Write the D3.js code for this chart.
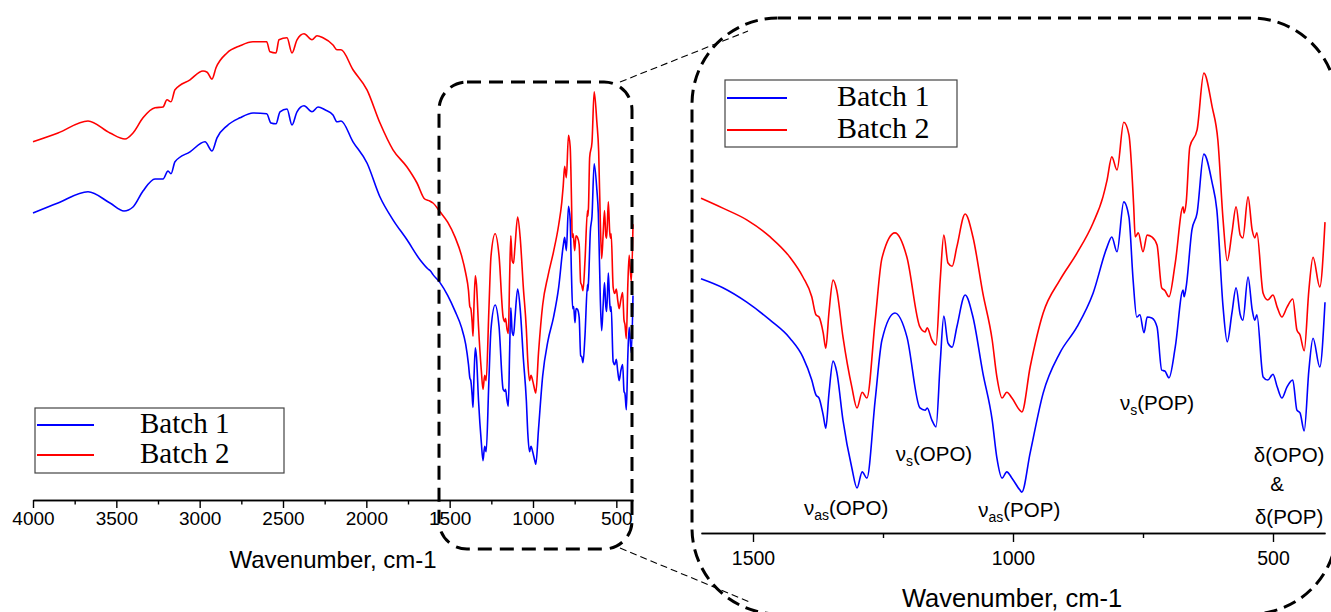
<!DOCTYPE html>
<html>
<head>
<meta charset="utf-8">
<script src="https://cdn.jsdelivr.net/npm/d3@7"></script>
<style>
  body { margin: 0; background: #fff; }
  text { font-family: "Liberation Sans", Arial, sans-serif; fill: #000; }
  .legend text { font-family: "Liberation Serif", "Times New Roman", serif; }
</style>
</head>
<body>
<svg id="chart"></svg>
<script>
var WIDTH = 1331;
var HEIGHT = 612;

// FTIR spectra, [wavenumber cm-1, transmittance a.u.]
var batch1 = [
  [4000,69],[3850,71.5],[3670,74.3],[3538,71.5],[3454,69.5],[3400,70.5],[3340,74.5],[3268,77.5],
  [3220,77.5],[3190,79.5],[3172,78.8],[3148,81.8],[3058,84.3],[2968,86.8],[2926,84.5],[2896,87.8],
  [2836,90.8],[2758,92.8],[2680,94],[2598,93.8],[2572,91.5],[2542,91.3],[2518,94.3],[2476,95],
  [2446,91],[2416,94.3],[2374,95.8],[2326,94.3],[2290,95.5],[2248,94.8],[2200,93.5],[2176,91.8],
  [2152,92],[2080,86.8],[1996,81.5],[1918,73],[1840,67.3],[1756,62.3],[1678,57.3],[1630,55],
  [1615,54.5],[1600,53.6],[1558,51.6],[1512,48.4],[1467,44.4],[1429,40.4],[1404,36.2],[1387,31.1],
  [1379,27.8],[1373,27.1],[1365,23.3],[1360,20.4],[1354,28],[1346,35.3],[1339,32.9],[1327,22.2],
  [1310,11.6],[1300,7.1],[1290,10.7],[1281,9.3],[1265,26.7],[1252,40],[1227,46],[1204,40.7],
  [1179,24.9],[1169,24.4],[1165,24.9],[1156,22.2],[1148,20.7],[1140,34.9],[1133,45.3],[1125,39.3],
  [1117,38.4],[1108,42.9],[1092,50],[1077,45.1],[1058,32.7],[1040,22.2],[1031,13.8],[1021,9.3],
  [1012,10.7],[1002,9.3],[987,6.7],[983,6.2],[967,14.9],[942,28.2],[910,37.1],[877,42.9],
  [846,50.4],[819,60.7],[810,62.9],[800,59.6],[787,70.7],[777,67.3],[769,53.3],[762,45.1],
  [756,45.6],[748,41.6],[742,45.1],[733,44.9],[723,42.9],[714,33.3],[708,33.1],[700,31.6],
  [688,38.4],[673,51.1],[671,49.6],[667,51.8],[656,64.4],[646,68.2],[633,81.3],[617,74.9],
  [608,68.9],[596,47.3],[588,39.6],[579,46],[571,51.6],[563,45.6],[558,44.4],[548,54],
  [540,46.7],[535,44.4],[531,45.6],[519,31.8],[510,31.1],[500,32.4],[492,29.6],[483,27.1],
  [473,29.6],[462,31.1],[454,24.4],[448,23.8],[440,19.8],[431,33.3],[423,40.4],[410,34],[400,48.4]
];
var batch2 = [
  [4000,86.8],[3850,89],[3670,92],[3538,89],[3448,87.5],[3400,89],[3340,92.8],[3268,95.3],
  [3220,95.5],[3196,97.3],[3172,96.8],[3148,99.8],[3058,102.3],[2980,104.5],[2955,104.2],[2926,102.5],
  [2902,105.3],[2836,109],[2758,110.8],[2680,111.8],[2598,111.8],[2578,109.3],[2542,109],[2524,112.3],
  [2476,112.8],[2446,109],[2416,112.3],[2374,113.8],[2326,112.3],[2296,113.3],[2260,112.8],[2200,111],
  [2176,109.8],[2152,109.8],[2080,104.8],[1996,99.8],[1918,91.5],[1840,84.8],[1756,80.5],[1696,76.5],
  [1650,72.5],[1620,72],[1600,71.5],[1558,69.3],[1512,66.7],[1467,62.9],[1429,58.4],[1404,54],
  [1387,49.6],[1379,45.6],[1373,45.1],[1365,41.6],[1360,38.2],[1354,46],[1346,53.3],[1339,51.1],
  [1327,40.7],[1310,29.6],[1300,24.9],[1290,28.4],[1281,27.1],[1265,44.4],[1252,58.2],[1227,63.8],
  [1204,58.4],[1179,42.9],[1169,41.8],[1165,42.7],[1156,40],[1148,38.9],[1140,53.3],[1133,63.3],
  [1125,57.1],[1117,56.4],[1108,60.7],[1092,68],[1077,62.9],[1058,50.4],[1040,40],[1031,31.8],
  [1021,27.1],[1012,28.4],[1002,27.1],[987,24.4],[983,24],[967,34],[942,46],[910,53.3],
  [877,59.3],[846,66],[827,71.8],[819,75.6],[810,80.7],[800,77.8],[787,88.4],[777,85.6],
  [768,70],[765,62.9],[759,63.8],[750,59.6],[742,63.3],[733,62.9],[723,61.1],[714,51.6],
  [708,51],[700,49.6],[688,57.1],[673,69.6],[671,68.2],[667,70.5],[660,82.9],[646,86.7],
  [633,99.3],[617,91.8],[606,84.4],[596,66.7],[588,57.6],[579,63.8],[571,69.6],[563,63.3],
  [558,62.7],[548,71.8],[540,64.4],[535,62.7],[531,63.8],[519,50.4],[510,48.9],[500,50],
  [492,47.3],[483,45.1],[473,47.3],[462,49.1],[454,42.2],[448,41.1],[440,37.6],[431,51.1],
  [423,58.4],[410,51.8],[400,66.2]
];
var seriesNames = ['Batch 1', 'Batch 2'];
var seriesColors = ['#0000ff', '#ff0000'];

var leftMajor = [4000, 3500, 3000, 2500, 2000, 1500, 1000, 500];
var leftMinor = [3750, 3250, 2750, 2250, 1750, 1250, 750];
var rightMajor = [1500, 1000, 500];
var rightMinor = [1250, 750];

// band assignments in the zoomed panel
var bands = [
  { pre: 'ν', sub: 'as', post: '(OPO)', wn: 1321, y: 515 },
  { pre: 'ν', sub: 's', post: '(OPO)', wn: 1152, y: 461 },
  { pre: 'ν', sub: 'as', post: '(POP)', wn: 988, y: 517 },
  { pre: 'ν', sub: 's', post: '(POP)', wn: 723, y: 410 },
  { pre: 'δ(OPO)', sub: '', post: '', wn: 469, y: 462 },
  { pre: '&', sub: '', post: '', wn: 492, y: 491 },
  { pre: 'δ(POP)', sub: '', post: '', wn: 469, y: 524 }
];

var svg = d3.select('#chart')
  .attr('width', WIDTH)
  .attr('height', HEIGHT);

svg.append('rect').attr('width', WIDTH).attr('height', HEIGHT).attr('fill', '#fff');

// ---- left: full spectrum
var xL = d3.scaleLinear().domain([4000, 400]).range([33, 633]);
var yL = d3.scaleLinear().domain([0, 100]).range([489, 89]);
// ---- right: fingerprint zoom
var xR = d3.scaleLinear().domain([1600, 400]).range([701, 1325]);
var yR = d3.scaleLinear().domain([0, 100]).range([520, 70]);

function drawLines(x, y, lo, hi) {
  var line = d3.line()
    .x(function(d) { return x(d[0]); })
    .y(function(d) { return y(d[1]); })
    .curve(d3.curveMonotoneX);
  [batch1, batch2].forEach(function(s, i) {
    svg.append('path')
      .datum(s.filter(function(d) { return d[0] <= hi && d[0] >= lo; }))
      .attr('fill', 'none')
      .attr('stroke', seriesColors[i])
      .attr('stroke-width', 1.6)
      .attr('stroke-linejoin', 'round')
      .attr('d', line);
  });
}
drawLines(xL, yL, 400, 4000);
drawLines(xR, yR, 400, 1600);

function drawAxis(x, yPos, majors, minors, majLen, minLen, pad, fs) {
  var g = svg.append('g').attr('transform', 'translate(0,' + yPos + ')');
  g.append('g').call(d3.axisBottom(x).tickValues(minors).tickSize(minLen).tickSizeOuter(0).tickFormat(''));
  g.append('g').call(d3.axisBottom(x).tickValues(majors).tickSize(majLen).tickSizeOuter(0)
    .tickPadding(pad).tickFormat(d3.format('d')));
  g.selectAll('path, line').attr('stroke', '#000').attr('stroke-width', 1.4);
  g.selectAll('text').attr('font-size', fs).attr('fill', '#000')
    .attr('font-family', '"Liberation Sans", Arial, sans-serif');
  return g;
}
drawAxis(xL, 500, leftMajor, leftMinor, 8, 4.5, 4, 19);
drawAxis(xR, 533, rightMajor, rightMinor, 9, 5, 9, 19.5);

svg.append('text').attr('x', 333).attr('y', 568).attr('text-anchor', 'middle')
  .attr('font-size', 24).text('Wavenumber, cm-1');
svg.append('text').attr('x', 1012).attr('y', 607).attr('text-anchor', 'middle')
  .attr('font-size', 25.5).text('Wavenumber, cm-1');

// band labels
bands.forEach(function(b) {
  var t = svg.append('text')
    .attr('x', xR(b.wn)).attr('y', b.y)
    .attr('text-anchor', 'middle').attr('font-size', 20.5);
  t.append('tspan').text(b.pre);
  if (b.sub) {
    t.append('tspan').attr('font-size', 14).attr('dy', 5).text(b.sub);
    t.append('tspan').attr('dy', -5).text(b.post);
  }
});

// legends
function drawLegend(x0, y0, w, h, lineX1, textX, rowY, fs) {
  var g = svg.append('g').attr('class', 'legend');
  g.append('rect').attr('x', x0).attr('y', y0).attr('width', w).attr('height', h)
    .attr('fill', '#fff').attr('stroke', '#444').attr('stroke-width', 1.2);
  seriesNames.forEach(function(name, i) {
    g.append('line')
      .attr('x1', x0 + 2).attr('x2', lineX1)
      .attr('y1', rowY[i]).attr('y2', rowY[i])
      .attr('stroke', seriesColors[i]).attr('stroke-width', 1.8);
    g.append('text').attr('x', textX).attr('y', rowY[i] + 8)
      .attr('font-size', fs).text(name);
  });
}
drawLegend(35, 408, 249, 65, 94, 140, [425, 455], 29);
drawLegend(725, 80, 232, 67, 787, 837, [98, 130], 30);

// dashed zoom boxes and connectors
svg.append('rect').attr('x', 439).attr('y', 82).attr('width', 193).attr('height', 467)
  .attr('rx', 28).attr('fill', 'none').attr('stroke', '#000').attr('stroke-width', 3)
  .attr('stroke-dasharray', '14,8');
svg.append('rect').attr('x', 692).attr('y', 18).attr('width', 645).attr('height', 596)
  .attr('rx', 86).attr('fill', 'none').attr('stroke', '#000').attr('stroke-width', 3)
  .attr('stroke-dasharray', '13,7');
[[620, 82, 748, 31], [620, 548, 752, 603]].forEach(function(c) {
  svg.append('line').attr('x1', c[0]).attr('y1', c[1]).attr('x2', c[2]).attr('y2', c[3])
    .attr('stroke', '#000').attr('stroke-width', 1.1).attr('stroke-dasharray', '7,4');
});
</script>
</body>
</html>
